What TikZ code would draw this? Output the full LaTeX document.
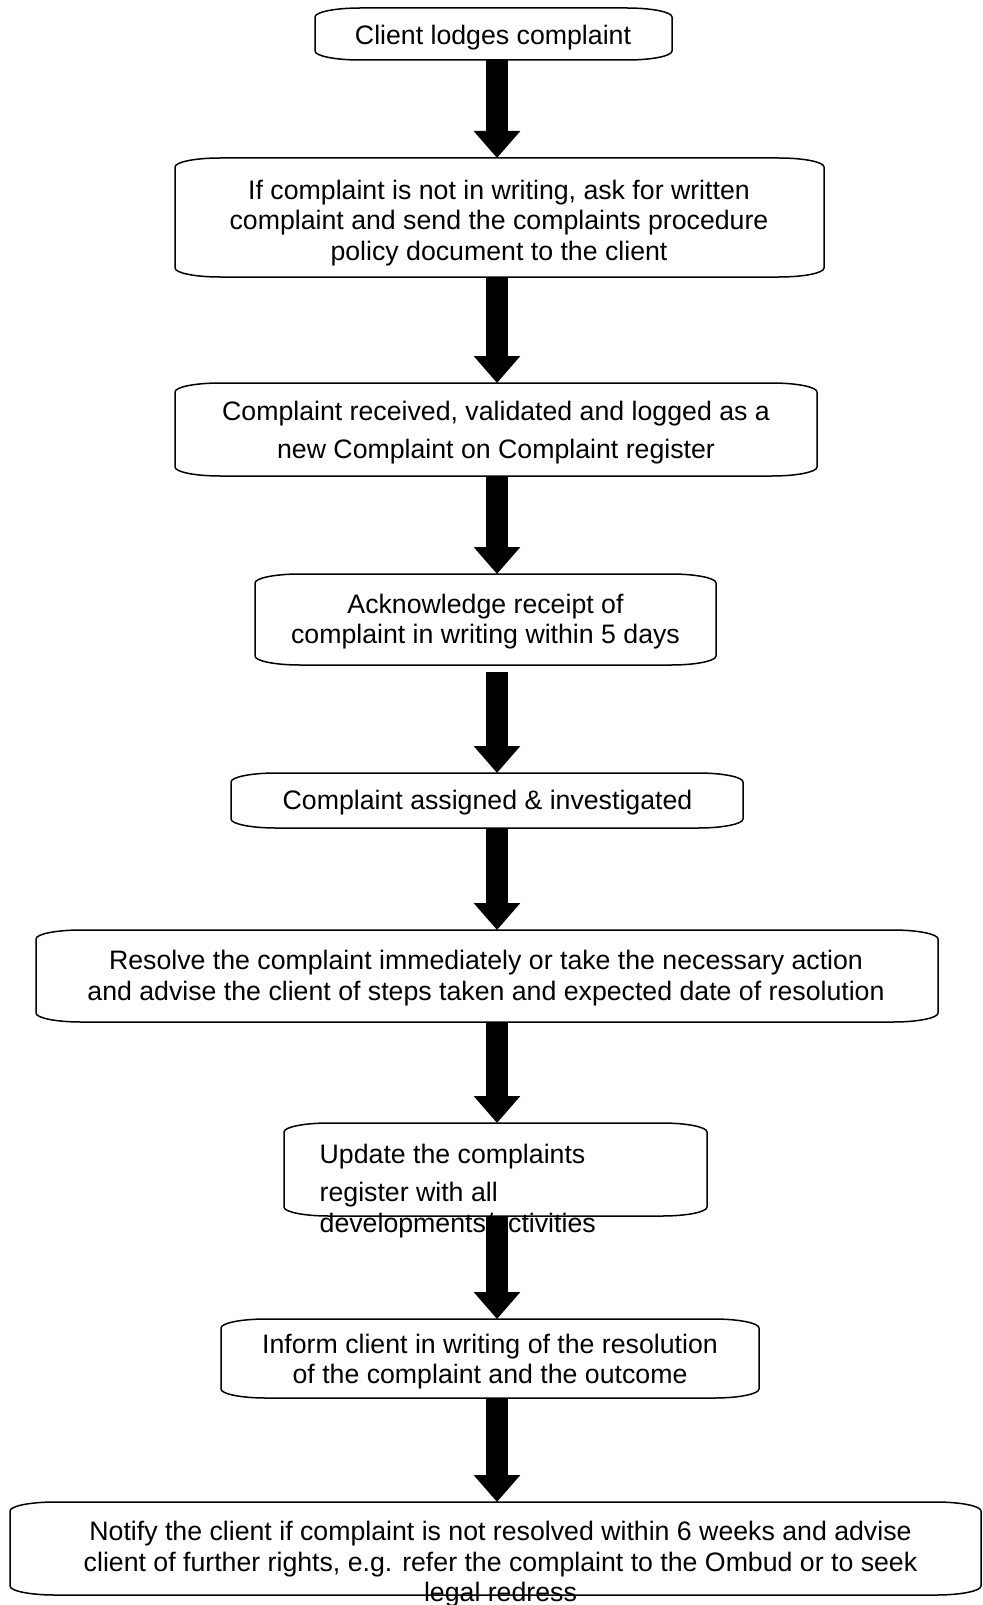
\documentclass[tikz,border=0pt]{standalone}
\usepackage{fontspec}
\setmainfont{Liberation Sans}
\usetikzlibrary{arrows.meta}
\newlength\crx \setlength\crx{45pt}
\newlength\cry \setlength\cry{9pt}
\newcommand\frameit[1]{%
  \draw[boxline] ([xshift=\crx]#1.north west) -- ([xshift=-\crx]#1.north east)
    .. controls ([xshift=-0.448\crx]#1.north east) and ([yshift=-0.448\cry]#1.north east) .. ([yshift=-\cry]#1.north east)
    -- ([yshift=\cry]#1.south east)
    .. controls ([yshift=0.448\cry]#1.south east) and ([xshift=-0.448\crx]#1.south east) .. ([xshift=-\crx]#1.south east)
    -- ([xshift=\crx]#1.south west)
    .. controls ([xshift=0.448\crx]#1.south west) and ([yshift=0.448\cry]#1.south west) .. ([yshift=\cry]#1.south west)
    -- ([yshift=-\cry]#1.north west)
    .. controls ([yshift=-0.448\cry]#1.north west) and ([xshift=0.448\crx]#1.north west) .. ([xshift=\crx]#1.north west) -- cycle;}
\begin{document}
\begin{tikzpicture}[x=1pt,y=-1pt,
  boxshape/.style={rectangle,inner sep=0pt,outer sep=0pt,minimum width=#1},
  boxline/.style={line width=1.5pt,black},
  txt/.style={font=\fontsize{26.7}{30.5}\selectfont,align=center,inner sep=0pt},
  flowarrow/.style={line width=22pt,-{Triangle[width=45pt,length=27pt]}}]
\useasboundingbox (0,0) rectangle (982,1605);
\fill[white] (0,0) rectangle (982,1605);
\coordinate (ax) at (497,0);

\node[boxshape=357pt,minimum height=52pt] (b1) at (493.5,34) {};
\node[boxshape=649pt,minimum height=119pt] (b2) at (499.5,217.5) {};
\node[boxshape=642pt,minimum height=93pt] (b3) at (496,429.5) {};
\node[boxshape=461pt,minimum height=91pt] (b4) at (485.5,619.5) {};
\node[boxshape=512pt,minimum height=55pt] (b5) at (487,800.5) {};
\node[boxshape=902pt,minimum height=92pt] (b6) at (487,976) {};
\node[boxshape=423pt,minimum height=93pt] (b7) at (495.5,1169.5) {};
\node[boxshape=538pt,minimum height=79pt] (b8) at (490,1358.5) {};
\node[boxshape=971pt,minimum height=93pt] (b9) at (495.5,1548.5) {};

\foreach \b in {b1,b2,b3,b4,b5,b6,b7,b8,b9}{\frameit{\b}}

\node[txt] (t1) at (493,37.5) {Client lodges complaint};
\node[txt] (t2) at (499,223) {If complaint is not in writing, ask for written\\complaint and send the complaints procedure\\policy document to the client};
\node[txt] (t3) at (496,432.5) {Complaint received, validated and logged as a\\[7pt]new Complaint on Complaint register};
\node[txt] (t4) at (485.5,621.5) {Acknowledge receipt of\\complaint in writing within 5 days};
\node[txt] (t5) at (487.5,802.5) {Complaint assigned \& investigated};
\node[txt] (t6) at (486,978) {Resolve the complaint immediately or take the necessary action\\and advise the client of steps taken and expected date of resolution};
\node[txt,align=left,anchor=base west] (t7) at (319.5,1232) {Update the complaints\\[8pt]register with all\\developments/activities};
\node[txt] (t8) at (490,1361.5) {Inform client in writing of the resolution\\of the complaint and the outcome};
\node[txt] (t9) at (500.5,1564.5) {Notify the client if complaint is not resolved within 6 weeks and advise\\client of further rights, e.g. refer the complaint to the Ombud or to seek\\legal redress};

\draw[flowarrow] (b1.south -| ax) -- (b2.north -| ax);
\draw[flowarrow] (b2.south -| ax) -- (b3.north -| ax);
\draw[flowarrow] (b3.south -| ax) -- (b4.north -| ax);
\draw[flowarrow,shorten <=7pt] (b4.south -| ax) -- (b5.north -| ax);
\draw[flowarrow] (b5.south -| ax) -- (b6.north -| ax);
\draw[flowarrow] (b6.south -| ax) -- (b7.north -| ax);
\draw[flowarrow] (b7.south -| ax) -- (b8.north -| ax);
\draw[flowarrow] (b8.south -| ax) -- (b9.north -| ax);
\end{tikzpicture}
\end{document}
